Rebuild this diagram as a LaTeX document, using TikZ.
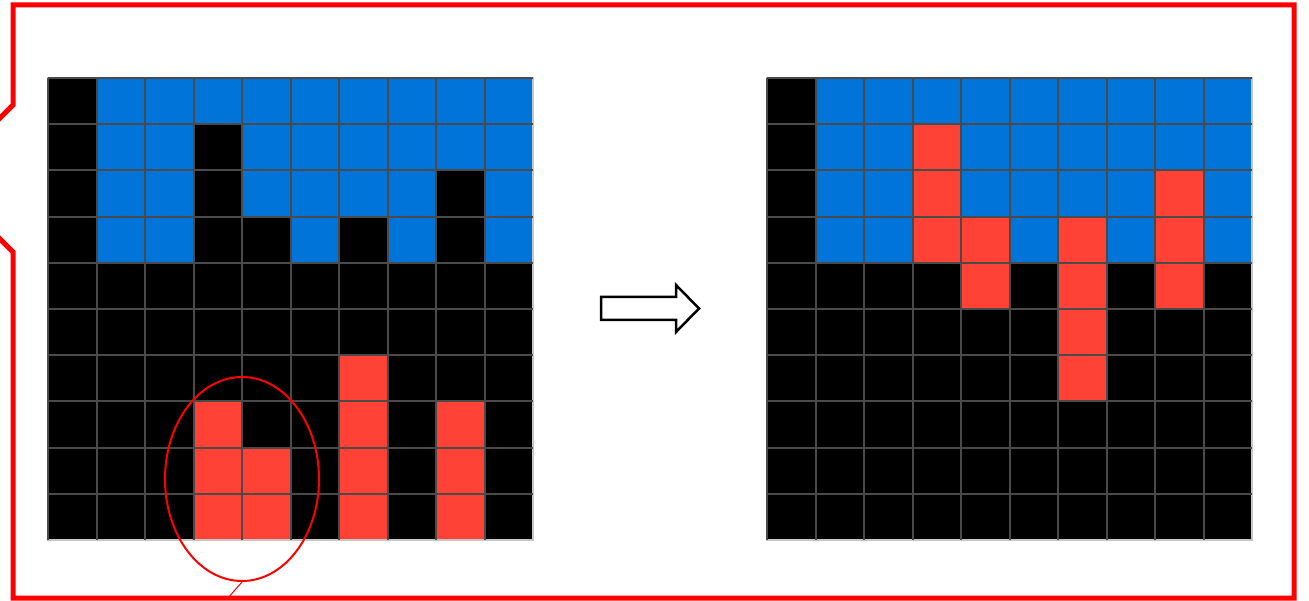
\documentclass[tikz,border=0pt]{standalone}
\usetikzlibrary{shapes.geometric}
\definecolor{cellblue}{HTML}{0074D9}
\definecolor{cellred}{HTML}{FF4136}
\definecolor{gridgray}{HTML}{4A4A4A}

\begin{document}
\begin{tikzpicture}[
    x=0.03cm, y=-0.03cm,
    frame/.style={draw=red, line width=0.15cm, line join=miter},
    gridline/.style={gridgray, line width=0.06cm},
    rim/.style={draw=gray!45, line width=0.06cm},
    oval/.style={ellipse, draw=red, line width=0.06cm, inner sep=0pt,
                 minimum width=4.62cm, minimum height=6.12cm}
  ]
  \useasboundingbox (0,0) rectangle (1309,601);
  \clip (0,0) rectangle (1309,601);

  % Frame with notch on the left
  \draw[frame] (-10,128) -- (13,105) -- (13,5) -- (1294,5) -- (1294,598)
    -- (13,598) -- (13,252) -- (-10,229);

  % Grids: before and after
  \foreach \gx/\reds in {48/{6/6,3/7,6/7,8/7,3/8,4/8,6/8,8/8,3/9,4/9,6/9,8/9},
                         767/{3/1,3/2,8/2,3/3,4/3,6/3,8/3,4/4,6/4,8/4,6/5,6/6}} {
    \begin{scope}[shift={(\gx,78)}]
    \begin{scope}[x=1.455cm, y=-1.386cm]
      \fill[black] (0,0) rectangle (10,10);
      \foreach \r/\cols in {0/{1,...,9}, 1/{1,2,4,5,6,7,8,9},
                            2/{1,2,4,5,6,7,9}, 3/{1,2,5,7,9}} {
        \foreach \c in \cols
          \fill[cellblue] (\c,\r) rectangle ++(1,1);
      }
      \foreach \c/\r in \reds
        \fill[cellred] (\c,\r) rectangle ++(1,1);
      \draw[rim] (0,0) rectangle (10,10);
      \foreach \i in {0,...,9} {
        \draw[gridline] (\i,0) -- (\i,10);
        \draw[gridline] (0,\i) -- (10,\i);
      }
    \end{scope}
    \end{scope}
  }

  % Arrow between the grids
  \draw[line width=0.075cm, fill=white] (601,297) -- (676,297) -- (676,285)
    -- (699,308.5) -- (676,332) -- (676,320) -- (601,320) -- cycle;

  % Marked cells
  \node[oval] (mark) at (242,479) {};
  \coordinate (tail) at (228,598);
  \draw[red, line width=0.03cm] (mark.south) -- (tail);
\end{tikzpicture}
\end{document}
